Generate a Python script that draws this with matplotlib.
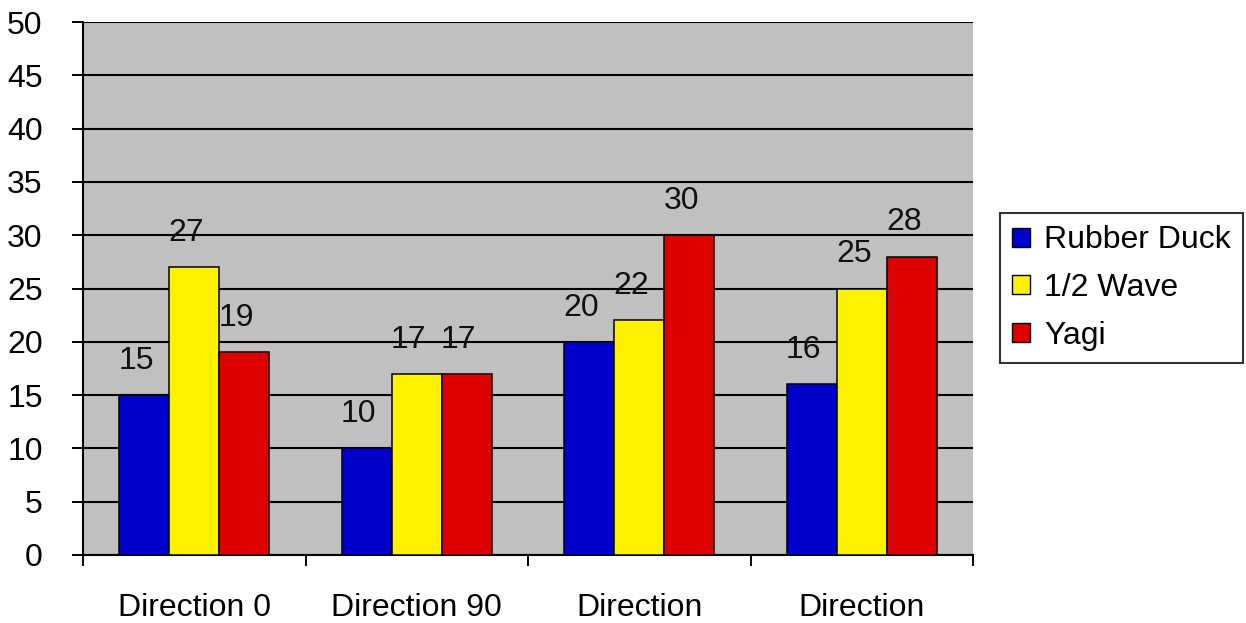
import matplotlib
matplotlib.use("Agg")
import matplotlib.pyplot as plt
import numpy as np
from matplotlib.patches import Patch

categories = ["Direction 0", "Direction 90", "Direction", "Direction"]
series_names = ["Rubber Duck", "1/2 Wave", "Yagi"]
rubber_duck = [15, 10, 20, 16]
half_wave = [27, 17, 22, 25]
yagi = [19, 17, 30, 28]
colors = ["#0000CC", "#FFF200", "#DD0000"]
y_ticks = [0, 5, 10, 15, 20, 25, 30, 35, 40, 45, 50]

plt.rcParams['font.family'] = ['Liberation Sans', 'DejaVu Sans']
FS = 23

fig = plt.figure(figsize=(12.46, 6.23), dpi=100)
ax = fig.add_axes([83/1246, 68/623, (973-83)/1246, (555-22)/623])
ax.set_facecolor("#C0C0C0")

x = np.arange(len(categories))
w = 0.225
data = [rubber_duck, half_wave, yagi]
for i, (vals, c) in enumerate(zip(data, colors)):
    ax.bar(x + (i - 1) * w, vals, width=w, color=c, edgecolor="black",
           linewidth=1.1, zorder=3)
    for xi, v in zip(x + (i - 1) * w, vals):
        ax.annotate(str(v), (xi, v), xytext=(-5.8, 24.5), textcoords="offset points",
                    ha="center", va="center", fontsize=FS, color="#111111", zorder=5)

ax.set_xlim(-0.5, len(categories) - 0.5)
ax.set_ylim(0, 50)
ax.set_yticks(y_ticks)
ax.set_yticklabels([str(t) for t in y_ticks], fontsize=FS)
ax.yaxis.grid(True, color="black", linewidth=1.5, zorder=1)
ax.set_axisbelow(True)

ax.set_xticks(np.arange(-0.5, len(categories)), minor=False)
ax.set_xticklabels([])
ax.set_xticks(x, minor=True)
ax.set_xticklabels(categories, minor=True, fontsize=FS)
ax.tick_params(axis="x", which="major", direction="out", length=8, width=1.4, color="black")
ax.tick_params(axis="x", which="minor", length=0, pad=27)
ax.tick_params(axis="y", direction="out", length=8, width=1.4, pad=21, color="black")

for s in ["top", "right"]:
    ax.spines[s].set_visible(False)
for s in ["left", "bottom"]:
    ax.spines[s].set_linewidth(1.5)
    ax.spines[s].set_color("black")

handles = [Patch(facecolor=c, edgecolor="black", linewidth=1.0) for c in colors]
leg = fig.legend(handles, series_names, loc="center left",
                 bbox_to_anchor=(1000/1246, (623-288)/623), bbox_transform=fig.transFigure,
                 borderaxespad=0, fontsize=FS, frameon=True, fancybox=False,
                 handlelength=0.55, handleheight=0.55, handletextpad=0.45,
                 labelspacing=0.55, borderpad=0.38)
leg.get_frame().set_edgecolor("black")
leg.get_frame().set_linewidth(1.5)

fig.savefig("out.png", dpi=100, facecolor="white")
